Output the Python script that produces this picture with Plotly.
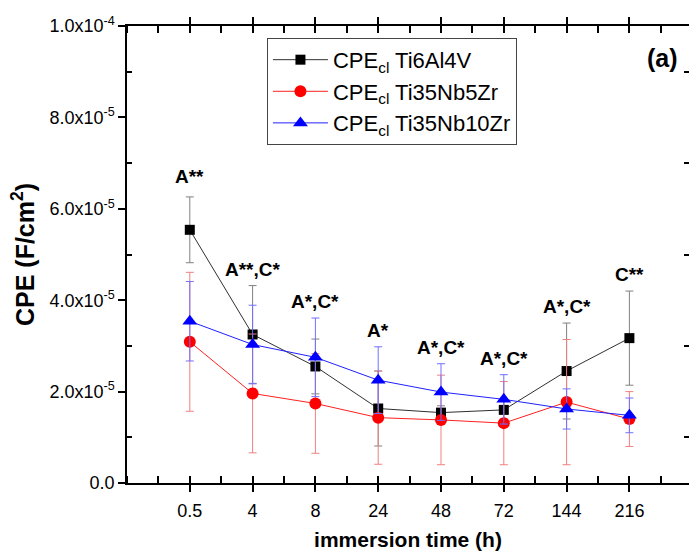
import plotly.graph_objects as go

# ---------------- data ----------------
times = ["0.5", "4", "8", "24", "48", "72", "144", "216"]

ti6al4v = [5.54e-5, 3.25e-5, 2.55e-5, 1.63e-5, 1.54e-5, 1.60e-5, 2.45e-5, 3.17e-5]
ti6al4v_err = [0.72e-5, 1.07e-5, 0.60e-5, 0.82e-5, 0.15e-5, 0.20e-5, 1.05e-5, 1.03e-5]

ti35nb5zr = [3.09e-5, 1.96e-5, 1.74e-5, 1.43e-5, 1.38e-5, 1.31e-5, 1.77e-5, 1.40e-5]
ti35nb5zr_err = [1.52e-5, 1.30e-5, 1.09e-5, 1.02e-5, 0.98e-5, 0.91e-5, 1.37e-5, 0.60e-5]

ti35nb10zr = [3.54e-5, 3.03e-5, 2.75e-5, 2.25e-5, 1.99e-5, 1.83e-5, 1.62e-5, 1.48e-5]
ti35nb10zr_err = [0.87e-5, 0.86e-5, 0.86e-5, 0.73e-5, 0.62e-5, 0.54e-5, 0.44e-5, 0.38e-5]

sig_labels = ["A**", "A**,C*", "A*,C*", "A*", "A*,C*", "A*,C*", "A*,C*", "C**"]

y_ticks = [0, 2e-5, 4e-5, 6e-5, 8e-5, 1e-4]
y_ticktext = ["0.0", "2.0x10<sup>-5</sup>", "4.0x10<sup>-5</sup>", "6.0x10<sup>-5</sup>",
              "8.0x10<sup>-5</sup>", "1.0x10<sup>-4</sup>"]
y_minor = [1e-5, 3e-5, 5e-5, 7e-5, 9e-5]

# ---------------- figure ----------------
FONT = "Liberation Sans, Arial, sans-serif"
xpos = list(range(1, len(times) + 1))

series = [
    ("CPE<sub>cl</sub> Ti6Al4V", ti6al4v, ti6al4v_err, "#000000", "#303030", "#808080", "square", 10),
    ("CPE<sub>cl</sub> Ti35Nb5Zr", ti35nb5zr, ti35nb5zr_err, "#ff0000", "#ff2020", "#f08080", "circle", 12),
    ("CPE<sub>cl</sub> Ti35Nb10Zr", ti35nb10zr, ti35nb10zr_err, "#0000ff", "#2020ff", "#7070ff", "triangle-up", 13),
]

fig = go.Figure()
for name, vals, errs, mcol, lcol, ecol, sym, size in series:
    fig.add_trace(go.Scatter(
        x=xpos, y=vals, name=name, mode="lines+markers",
        line=dict(color=lcol, width=1),
        marker=dict(symbol=sym, size=size, color=mcol, line=dict(width=0)),
        error_y=dict(type="data", array=errs, visible=True, color=ecol, thickness=1, width=4),
    ))

# dummy trace so that right-hand tick axis is drawn
fig.add_trace(go.Scatter(x=[], y=[], yaxis="y2", showlegend=False, hoverinfo="skip"))

# significance labels above the highest error bar at each time
for i, lab in enumerate(sig_labels):
    top = max(ti6al4v[i] + ti6al4v_err[i], ti35nb5zr[i] + ti35nb5zr_err[i],
              ti35nb10zr[i] + ti35nb10zr_err[i])
    fig.add_annotation(x=xpos[i], y=top, text="<b>" + lab + "</b>", showarrow=False,
                       xanchor="center", yanchor="bottom", yshift=4 if i else 8,
                       font=dict(family=FONT, size=19, color="black"))

fig.add_annotation(x=0.952, y=0.930, xref="paper", yref="paper", text="<b>(a)</b>",
                   showarrow=False, xanchor="center", yanchor="middle",
                   font=dict(family=FONT, size=25, color="black"))

W, H = 689, 552
L, R, T, B = 127, 0, 26, 69
xmax = (W - L - R) / 62.8

fig.update_layout(
    width=W, height=H,
    margin=dict(l=L, r=R, t=T, b=B),
    paper_bgcolor="white", plot_bgcolor="white",
    font=dict(family=FONT, color="black"),
    showlegend=True,
    legend=dict(x=0.249, y=0.974, xanchor="left", yanchor="top",
                bordercolor="#444444", borderwidth=1, bgcolor="white",
                font=dict(family=FONT, size=22), tracegroupgap=0,
                itemwidth=55),
    xaxis=dict(range=[0, xmax], tickmode="array", tickvals=xpos, ticktext=times,
               ticks="outside", ticklen=7, tickwidth=1.5, tickcolor="black",
               minor=dict(tickmode="linear", tick0=0, dtick=0.5, ticks="inside",
                          ticklen=5, tickwidth=1.5, tickcolor="black"),
               showline=True, linecolor="black", linewidth=1.5, mirror="allticks",
               showgrid=False, zeroline=False, ticklabelstandoff=4,
               tickfont=dict(family=FONT, size=18),
               title=dict(text="<b>immersion time (h)</b>", font=dict(family=FONT, size=21),
                          standoff=12)),
    yaxis=dict(range=[0, 1e-4], tickmode="array", tickvals=y_ticks, ticktext=y_ticktext,
               ticks="outside", ticklen=7, tickwidth=1.5, tickcolor="black",
               minor=dict(tickmode="array", tickvals=y_minor, ticks="inside",
                          ticklen=5, tickwidth=1.5, tickcolor="black"),
               showline=True, linecolor="black", linewidth=1.5, mirror=False,
               showgrid=False, zeroline=False,
               tickfont=dict(family=FONT, size=18),
               title=dict(text="<b>CPE (F/cm<sup>2</sup>)</b>", font=dict(family=FONT, size=25),
                          standoff=8)),
    yaxis2=dict(range=[0, 1e-4], overlaying="y", side="right", anchor="x",
                tickmode="array", tickvals=y_minor, ticks="inside", ticklen=5,
                tickwidth=1.5, tickcolor="black", showticklabels=False,
                showline=False, showgrid=False, zeroline=False),
)

fig.write_html("out.html")
